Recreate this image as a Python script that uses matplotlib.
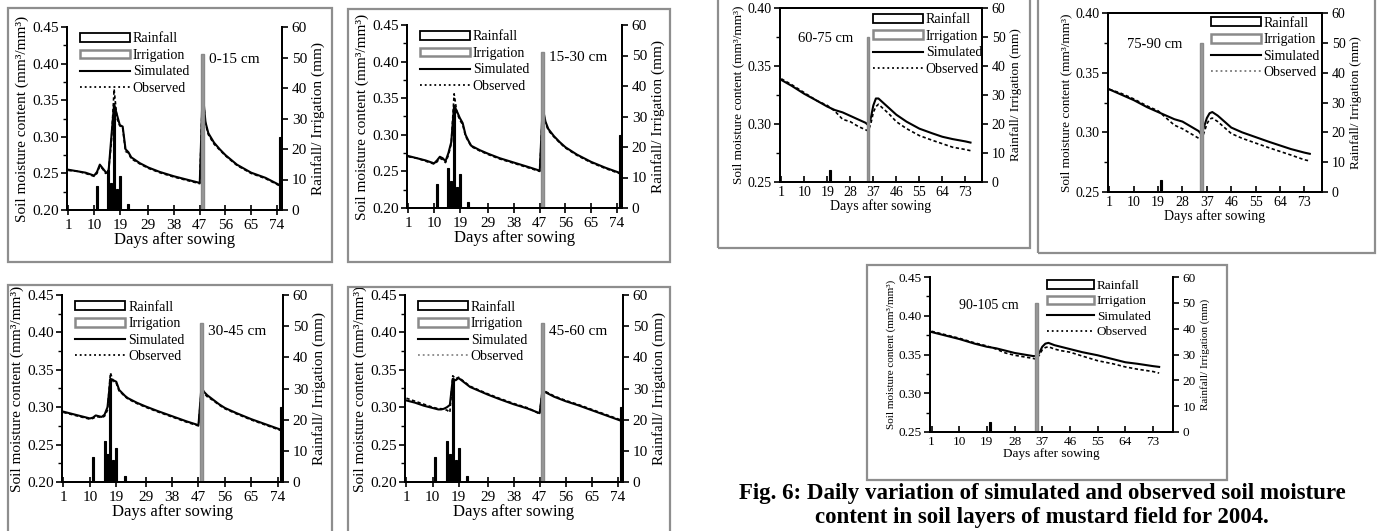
import matplotlib
matplotlib.use("Agg")
import matplotlib.pyplot as plt
from matplotlib.patches import Rectangle, Patch
from matplotlib.lines import Line2D
from matplotlib.ticker import MultipleLocator, FormatStrFormatter

plt.rcParams['font.family'] = ['Liberation Serif', 'DejaVu Serif']

W, H = 1380, 531

# ---- panels 1-4 (0-60 cm), days after sowing ----
DAYS_TOP = [1, 4, 7, 10, 11, 12, 13, 14, 15, 16, 17, 18, 19, 20, 21, 22, 23, 26, 29, 33,
            38, 43, 47, 48, 49, 50, 52, 54, 56, 60, 65, 70, 75]
XTICKS_TOP = [1, 10, 19, 29, 38, 47, 56, 65, 74]

SIM_0_15 = [0.255, 0.253, 0.251, 0.247, 0.252, 0.262, 0.257, 0.252, 0.250, 0.298, 0.345, 0.330,
            0.316, 0.314, 0.283, 0.279, 0.272, 0.264, 0.258, 0.252, 0.246, 0.241, 0.237, 0.362,
            0.320, 0.305, 0.292, 0.283, 0.275, 0.262, 0.251, 0.244, 0.234]
OBS_0_15 = [0.254, 0.253, 0.250, 0.246, 0.250, 0.260, 0.256, 0.250, 0.252, 0.290, 0.365, 0.325,
            0.315, 0.312, 0.280, 0.278, 0.270, 0.263, 0.257, 0.251, 0.245, 0.240, 0.236, 0.365,
            0.318, 0.303, 0.290, 0.282, 0.274, 0.261, 0.250, 0.243, 0.233]

SIM_15_30 = [0.271, 0.268, 0.265, 0.261, 0.265, 0.270, 0.268, 0.264, 0.275, 0.290, 0.340, 0.332,
             0.323, 0.316, 0.300, 0.292, 0.285, 0.279, 0.274, 0.268, 0.262, 0.256, 0.251, 0.337,
             0.318, 0.308, 0.298, 0.290, 0.283, 0.273, 0.263, 0.255, 0.248]
OBS_15_30 = [0.270, 0.268, 0.264, 0.260, 0.263, 0.268, 0.266, 0.262, 0.272, 0.288, 0.356, 0.330,
             0.320, 0.314, 0.298, 0.291, 0.284, 0.278, 0.273, 0.267, 0.261, 0.255, 0.250, 0.335,
             0.316, 0.306, 0.297, 0.289, 0.282, 0.272, 0.262, 0.254, 0.247]

SIM_30_45 = [0.294, 0.291, 0.288, 0.285, 0.286, 0.289, 0.288, 0.287, 0.290, 0.300, 0.338, 0.336,
             0.334, 0.323, 0.319, 0.315, 0.312, 0.306, 0.301, 0.295, 0.288, 0.281, 0.276, 0.326,
             0.320, 0.316, 0.310, 0.304, 0.299, 0.292, 0.284, 0.277, 0.270]
OBS_30_45 = [0.293, 0.290, 0.287, 0.284, 0.285, 0.287, 0.287, 0.286, 0.288, 0.296, 0.346, 0.334,
             0.332, 0.321, 0.318, 0.314, 0.311, 0.305, 0.300, 0.294, 0.287, 0.280, 0.275, 0.324,
             0.318, 0.314, 0.309, 0.303, 0.298, 0.291, 0.283, 0.276, 0.269]

SIM_45_60 = [0.309, 0.306, 0.302, 0.299, 0.298, 0.297, 0.297, 0.298, 0.300, 0.303, 0.338, 0.336,
             0.339, 0.336, 0.333, 0.330, 0.327, 0.322, 0.317, 0.311, 0.304, 0.298, 0.292, 0.323,
             0.320, 0.318, 0.314, 0.311, 0.308, 0.303, 0.296, 0.289, 0.282]
OBS_45_60 = [0.312, 0.308, 0.304, 0.300, 0.299, 0.298, 0.298, 0.297, 0.296, 0.293, 0.342, 0.338,
             0.340, 0.337, 0.334, 0.331, 0.328, 0.323, 0.318, 0.312, 0.305, 0.299, 0.291, 0.325,
             0.321, 0.319, 0.315, 0.312, 0.309, 0.304, 0.297, 0.290, 0.283]

RAIN_DAYS_TOP = [11, 15, 16, 17, 18, 19, 22, 75]
RAIN_TOP = [8, 13, 9, 33, 7, 11, 2, 24]
IRR_DAYS_TOP = [48]
IRR_TOP = [51]

# ---- panels 5-7 (60-105 cm) ----
DAYS_BOT = [1, 5, 10, 15, 19, 22, 25, 28, 31, 34, 35, 36, 37, 38, 39, 41, 43, 46, 50, 55,
            60, 64, 68, 73, 75]
XTICKS_BOT = [1, 10, 19, 28, 37, 46, 55, 64, 73]

SIM_60_75 = [0.338, 0.333, 0.326, 0.320, 0.315, 0.312, 0.310, 0.307, 0.304, 0.301, 0.299, 0.305,
             0.316, 0.322, 0.322, 0.318, 0.314, 0.308, 0.302, 0.296, 0.292, 0.289, 0.287, 0.285,
             0.284]
OBS_60_75 = [0.339, 0.334, 0.327, 0.320, 0.316, 0.311, 0.304, 0.302, 0.298, 0.295, 0.294, 0.300,
             0.310, 0.315, 0.317, 0.313, 0.309, 0.302, 0.296, 0.290, 0.286, 0.283, 0.280, 0.278,
             0.277]

SIM_75_90 = [0.336, 0.332, 0.327, 0.321, 0.317, 0.314, 0.311, 0.309, 0.305, 0.301, 0.298, 0.305,
             0.312, 0.316, 0.317, 0.314, 0.310, 0.304, 0.300, 0.296, 0.292, 0.289, 0.286, 0.283,
             0.282]
OBS_75_90 = [0.336, 0.333, 0.328, 0.322, 0.318, 0.312, 0.306, 0.303, 0.299, 0.295, 0.294, 0.300,
             0.307, 0.311, 0.312, 0.309, 0.305, 0.299, 0.295, 0.291, 0.287, 0.284, 0.281, 0.277,
             0.276]

SIM_90_105 = [0.379, 0.375, 0.370, 0.364, 0.360, 0.358, 0.355, 0.352, 0.350, 0.348, 0.348, 0.352,
              0.360, 0.364, 0.365, 0.362, 0.360, 0.357, 0.353, 0.349, 0.344, 0.340, 0.338, 0.335,
              0.334]
OBS_90_105 = [0.380, 0.376, 0.371, 0.365, 0.361, 0.357, 0.352, 0.349, 0.347, 0.345, 0.344, 0.349,
              0.356, 0.359, 0.360, 0.357, 0.355, 0.353, 0.348, 0.342, 0.338, 0.334, 0.331, 0.328,
              0.326]

RAIN_DAYS_BOT = [20]
RAIN_BOT = [4]
IRR_DAYS_BOT = [35]
IRR_BOT = [50]

CAPTION = ["Fig. 6: Daily variation of simulated and observed soil moisture",
           "content in soil layers of mustard field for 2004."]


def px_rect(l, t, r, b):
    return [l / W, 1 - b / H, (r - l) / W, (b - t) / H]


def frame(fig, l, t, r, b):
    x, y, w, h = px_rect(l, t, r, b)
    fig.add_artist(Rectangle((x, y), w, h, transform=fig.transFigure, fill=False,
                             ec='#8e8e8e', lw=1.6))


def panel(fig, box, days, sim, obs, rain_d, rain, irr_d, irr, layer, c):
    ax = fig.add_axes(px_rect(*box))
    ax2 = ax.twinx()

    ax.plot(days, sim, color='black', lw=1.5)
    ax.plot(days, obs, color='black', lw=1.2, ls=(0, (2, 1.5)))

    ax2.bar(rain_d, rain, width=0.7, color='black', edgecolor='black', lw=0.8)
    ax2.bar(irr_d, irr, width=0.9, color='#999999', edgecolor='#8a8a8a', lw=1.0)

    ax.set_xlim(c['xlim'])
    ax.set_ylim(c['ylim'])
    ax2.set_ylim(0, 60)
    ax.yaxis.set_major_locator(MultipleLocator(0.05))
    ax.yaxis.set_minor_locator(MultipleLocator(0.025))
    ax.yaxis.set_major_formatter(FormatStrFormatter('%.2f'))
    ax2.yaxis.set_major_locator(MultipleLocator(10))
    ax.set_xticks(c['xticks'])
    ax.set_xticklabels([str(v) for v in c['xticks']])

    fs = c['fs']
    ax.tick_params(axis='y', direction='out', length=4, width=1.2, labelsize=fs, pad=2)
    ax.tick_params(axis='y', which='minor', direction='out', length=3, width=1.0)
    ax.tick_params(axis='x', direction=c['xdir'], length=c['xlen'], width=1.2,
                   labelsize=fs, pad=3)
    ax2.tick_params(axis='y', direction='out', length=4, width=1.2, labelsize=fs, pad=3)

    for a in (ax, ax2):
        for s in a.spines.values():
            s.set_linewidth(1.4)
            s.set_color('black')
        a.spines['top'].set_visible(c['top'])

    ax.set_ylabel('Soil moisture content (mm³/mm³)', fontsize=c['lfs'], labelpad=2)
    ax2.set_ylabel('Rainfall/ Irrigation (mm)', fontsize=c['lfs'], labelpad=3)
    ax.set_xlabel('Days after sowing', fontsize=c['xlfs'], labelpad=0)

    ax.text(c['layer_xy'][0], c['layer_xy'][1], layer, transform=ax.transAxes,
            fontsize=c['layfs'], va='top', ha='left')

    handles = [Patch(fc='white', ec='black', lw=1.3),
               Patch(fc='white', ec='#8a8a8a', lw=1.8),
               Line2D([], [], color='black', lw=1.5),
               Line2D([], [], color=c['obs_leg'], lw=1.3, ls=':')]
    ax2.legend(handles, ['Rainfall', 'Irrigation', 'Simulated', 'Observed'],
               loc='upper left', bbox_to_anchor=c['leg'], frameon=False,
               fontsize=c['legfs'], handlelength=3.6, handleheight=0.6,
               handletextpad=0.2, labelspacing=0.25, borderpad=0, borderaxespad=0)
    return ax


def main():
    fig = plt.figure(figsize=(W / 100, H / 100), dpi=100)

    top_cfg = dict(xlim=(0.5, 75.8), ylim=(0.20, 0.45), xticks=XTICKS_TOP, xdir='inout',
                   xlen=7, top=False, fs=11, lfs=11, xlfs=12, layfs=11, legfs=10,
                   layer_xy=(0.66, 0.86), leg=(0.06, 0.97), obs_leg='black')
    bot_cfg = dict(xlim=(0.5, 79.5), ylim=(0.25, 0.40), xticks=XTICKS_BOT, xdir='in',
                   xlen=4, top=True, fs=10, lfs=9.5, xlfs=10, layfs=10.5, legfs=10,
                   layer_xy=(0.09, 0.86), leg=(0.46, 0.97), obs_leg='#777777')

    # frames
    frame(fig, 8, 8, 332, 262)
    frame(fig, 348, 9, 670, 262)
    frame(fig, 8, 285, 332, 545)
    frame(fig, 348, 287, 670, 545)
    frame(fig, 718, -5, 1030, 248)
    frame(fig, 1038, -5, 1375, 253)
    frame(fig, 867, 265, 1227, 480)

    panel(fig, (67, 27, 282, 210), DAYS_TOP, SIM_0_15, OBS_0_15, RAIN_DAYS_TOP, RAIN_TOP,
          IRR_DAYS_TOP, IRR_TOP, '0-15 cm', top_cfg)
    panel(fig, (407, 25, 622, 208), DAYS_TOP, SIM_15_30, OBS_15_30, RAIN_DAYS_TOP, RAIN_TOP,
          IRR_DAYS_TOP, IRR_TOP, '15-30 cm', top_cfg)
    panel(fig, (62, 295, 283, 482), DAYS_TOP, SIM_30_45, OBS_30_45, RAIN_DAYS_TOP, RAIN_TOP,
          IRR_DAYS_TOP, IRR_TOP, '30-45 cm', dict(top_cfg, layer_xy=(0.66, 0.84)))
    panel(fig, (405, 295, 623, 482), DAYS_TOP, SIM_45_60, OBS_45_60, RAIN_DAYS_TOP, RAIN_TOP,
          IRR_DAYS_TOP, IRR_TOP, '45-60 cm',
          dict(top_cfg, layer_xy=(0.66, 0.84), obs_leg='#888888'))

    panel(fig, (780, 8, 982, 182), DAYS_BOT, SIM_60_75, OBS_60_75, RAIN_DAYS_BOT, RAIN_BOT,
          IRR_DAYS_BOT, IRR_BOT, '60-75 cm', dict(bot_cfg, obs_leg='black'))
    panel(fig, (1108, 13, 1322, 192), DAYS_BOT, SIM_75_90, OBS_75_90, RAIN_DAYS_BOT, RAIN_BOT,
          IRR_DAYS_BOT, IRR_BOT, '75-90 cm', dict(bot_cfg, leg=(0.48, 0.98)))
    panel(fig, (930, 277, 1173, 432), DAYS_BOT, SIM_90_105, OBS_90_105, RAIN_DAYS_BOT, RAIN_BOT,
          IRR_DAYS_BOT, IRR_BOT, '90-105 cm',
          dict(bot_cfg, ylim=(0.25, 0.45), top=False, fs=9.5, lfs=8, xlfs=9.5, legfs=9.5,
               layfs=10, leg=(0.48, 0.98), layer_xy=(0.12, 0.86), obs_leg='black'))

    fig.text(1042 / W, 1 - 494 / H, CAPTION[0], ha='center', va='center', fontsize=16.5,
             weight='bold')
    fig.text(1042 / W, 1 - 518 / H, CAPTION[1], ha='center', va='center', fontsize=16.5,
             weight='bold')

    fig.savefig('out.png', dpi=100)


if __name__ == "__main__":
    main()
